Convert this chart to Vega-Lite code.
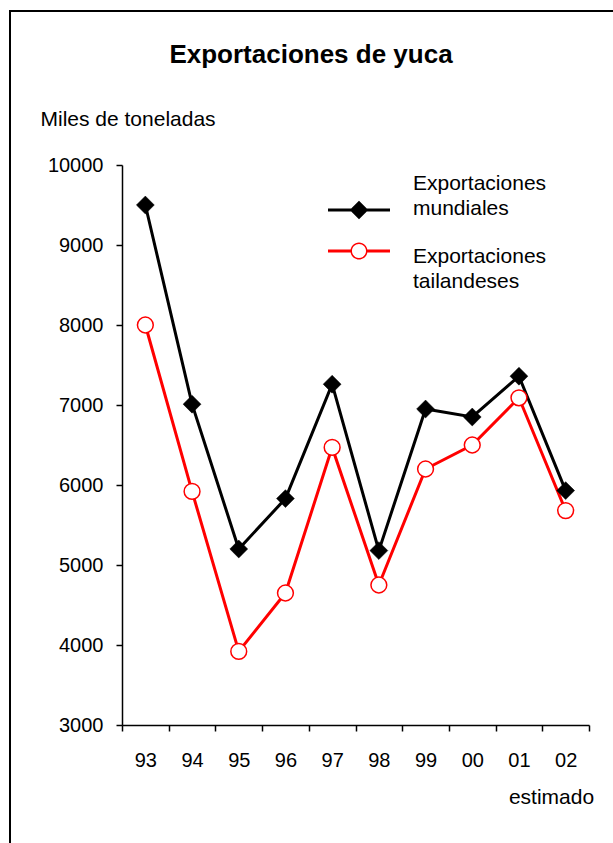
{
  "$schema": "https://vega.github.io/schema/vega-lite/v6.json",
  "width": 610,
  "height": 840,
  "autosize": {"type": "none"},
  "padding": {"left": 10, "top": 11, "right": 0, "bottom": 0},
  "background": "white",
  "config": {
    "font": "Liberation Sans",
    "view": {"stroke": "black", "strokeWidth": 2, "fill": "white"},
    "axis": {
      "domainColor": "black", "domainWidth": 1.5,
      "tickColor": "black", "tickWidth": 1.5, "tickSize": 6,
      "labelColor": "black", "labelFont": "Liberation Sans", "labelFontSize": 20,
      "titleColor": "black", "titleFont": "Liberation Sans", "titleFontSize": 21, "titleFontWeight": "normal",
      "grid": false
    }
  },
  "title": {
    "text": "Exportaciones de yuca",
    "font": "Liberation Sans",
    "fontSize": 26,
    "fontWeight": "bold",
    "color": "black",
    "anchor": "middle",
    "frame": "group",
    "baseline": "alphabetic",
    "offset": -78,
    "dx": -4
  },
  "data": {
    "values": [
      {"year": "93", "series": "Exportaciones mundiales", "value": 9500},
      {"year": "94", "series": "Exportaciones mundiales", "value": 7010},
      {"year": "95", "series": "Exportaciones mundiales", "value": 5200},
      {"year": "96", "series": "Exportaciones mundiales", "value": 5830},
      {"year": "97", "series": "Exportaciones mundiales", "value": 7260},
      {"year": "98", "series": "Exportaciones mundiales", "value": 5180},
      {"year": "99", "series": "Exportaciones mundiales", "value": 6950},
      {"year": "00", "series": "Exportaciones mundiales", "value": 6850},
      {"year": "01", "series": "Exportaciones mundiales", "value": 7360},
      {"year": "02", "series": "Exportaciones mundiales", "value": 5930},
      {"year": "93", "series": "Exportaciones tailandeses", "value": 8000},
      {"year": "94", "series": "Exportaciones tailandeses", "value": 5920},
      {"year": "95", "series": "Exportaciones tailandeses", "value": 3920},
      {"year": "96", "series": "Exportaciones tailandeses", "value": 4650},
      {"year": "97", "series": "Exportaciones tailandeses", "value": 6470},
      {"year": "98", "series": "Exportaciones tailandeses", "value": 4750},
      {"year": "99", "series": "Exportaciones tailandeses", "value": 6200},
      {"year": "00", "series": "Exportaciones tailandeses", "value": 6500},
      {"year": "01", "series": "Exportaciones tailandeses", "value": 7090},
      {"year": "02", "series": "Exportaciones tailandeses", "value": 5680}
    ]
  },
  "encoding": {
    "x": {
      "field": "year", "type": "ordinal",
      "sort": ["93", "94", "95", "96", "97", "98", "99", "00", "01", "02"],
      "scale": {"type": "band", "range": [112, 579], "paddingInner": 0, "paddingOuter": 0},
      "axis": {
        "title": "estimado", "titleX": 541, "titleY": 78, "titleAlign": "center", "titleBaseline": "alphabetic",
        "labelAngle": 0, "labelPadding": 19, "tickBand": "extent", "offset": -126
      }
    },
    "y": {
      "field": "value", "type": "quantitative",
      "scale": {"domain": [3000, 10000], "range": [714, 154], "zero": false, "nice": false},
      "axis": {
        "title": "Miles de toneladas", "titleAngle": 0, "titleX": -82, "titleY": 114,
        "titleAlign": "left", "titleBaseline": "alphabetic",
        "values": [3000, 4000, 5000, 6000, 7000, 8000, 9000, 10000], "format": "d",
        "labelPadding": 13, "offset": -112
      }
    }
  },
  "layer": [
    {
      "mark": {"type": "line", "strokeWidth": 3},
      "encoding": {
        "color": {
          "field": "series", "type": "nominal",
          "scale": {"domain": ["Exportaciones mundiales", "Exportaciones tailandeses"], "range": ["black", "#ff0000"]},
          "legend": {
            "title": null, "orient": "none", "legendX": 318, "legendY": 168, "padding": 0,
            "symbolSize": 3844, "symbolStrokeWidth": 0,
            "labelFont": "Liberation Sans", "labelFontSize": 21, "labelColor": "black", "labelOffset": 23, "labelLimit": 0,
            "labelExpr": "split(datum.label, ' ')",
            "rowPadding": -12,
            "encode": {
              "symbols": {
                "update": {
                  "shape": {"signal": "datum.value == 'Exportaciones mundiales' ? 'M-1,-0.048H1V0.048H-1Z M0,-0.3L0.3,0L0,0.3L-0.3,0Z' : 'M-1,-0.048H-0.25V0.048H-1Z M0.25,-0.048H1V0.048H0.25Z M0.274,0A0.274,0.274,0,1,1,-0.274,0A0.274,0.274,0,1,1,0.274,0Z M0.226,0A0.226,0.226,0,1,0,-0.226,0A0.226,0.226,0,1,0,0.226,0Z'"},
                  "fill": {"signal": "datum.value == 'Exportaciones mundiales' ? 'black' : '#ff0000'"},
                  "stroke": {"value": "transparent"},
                  "strokeWidth": {"value": 0},
                  "opacity": {"value": 1},
                  "fillOpacity": {"value": 1}
                }
              },
              "labels": {
                "update": {
                  "lineHeight": {"value": 25},
                  "dy": {"signal": "datum.index == 0 ? -26 : 6"}
                }
              }
            }
          }
        }
      }
    },
    {
      "transform": [{"filter": "datum.series == 'Exportaciones mundiales'"}],
      "mark": {"type": "point", "shape": "diamond", "filled": true, "fill": "black", "stroke": "black", "strokeWidth": 0.5, "size": 320, "opacity": 1}
    },
    {
      "transform": [{"filter": "datum.series == 'Exportaciones tailandeses'"}],
      "mark": {"type": "point", "shape": "circle", "filled": true, "fill": "white", "stroke": "#ff0000", "strokeWidth": 1.5, "size": 250, "opacity": 1}
    }
  ]
}
